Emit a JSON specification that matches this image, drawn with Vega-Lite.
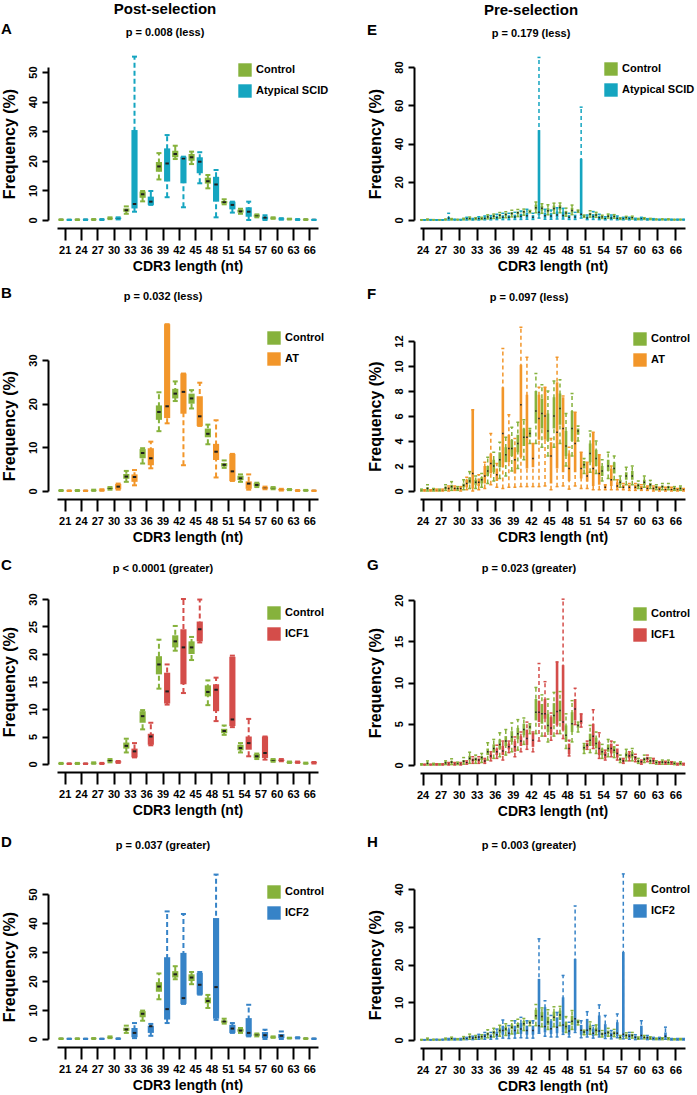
{
"$schema": "https://vega.github.io/schema/vega-lite/v6.json",
"padding": {"left": 0, "top": 1, "right": 0, "bottom": 0},
"background": "white",
"config": {
  "font": "Liberation Sans",
  "view": {"stroke": null},
  "mark": {"opacity": 1},
  "tick": {"opacity": 1},
  "bar": {"opacity": 1},
  "rule": {"opacity": 1},
  "axis": {"domainColor": "#000", "domainWidth": 2, "tickColor": "#000", "tickWidth": 2, "labelColor": "#000", "labelFont": "Liberation Sans", "labelFontWeight": "bold", "labelFontSize": 11, "titleFont": "Liberation Sans", "titleFontWeight": "bold", "titleColor": "#000", "grid": false},
  "axisX": {"offset": 8, "tickSize": 12, "labelAngle": 0, "labelPadding": 4, "titleFontSize": 14, "titlePadding": 4},
  "axisY": {"tickSize": 6, "labelAngle": 270, "labelAlign": "center", "labelBaseline": "bottom", "labelPadding": 4, "titleFontSize": 16, "titlePadding": 10},
  "legend": {"symbolType": "square", "symbolSize": 180, "symbolStrokeWidth": 0, "symbolOpacity": 1, "labelFont": "Liberation Sans", "labelFontSize": 11, "labelFontWeight": "bold", "labelColor": "#000", "rowPadding": 7, "labelOffset": 4, "padding": 0},
  "title": {"font": "Liberation Sans", "fontWeight": "bold", "color": "#000"}
},
"datasets": {
"post": [
{"len":21,"grp":"Control","min":0,"q1":0.05,"median":0.1,"q3":0.15,"max":0.2},
{"len":24,"grp":"Control","min":0,"q1":0.05,"median":0.1,"q3":0.15,"max":0.2},
{"len":27,"grp":"Control","min":0.05,"q1":0.1,"median":0.15,"q3":0.2,"max":0.3},
{"len":30,"grp":"Control","min":0.3,"q1":0.45,"median":0.6,"q3":0.75,"max":0.9},
{"len":33,"grp":"Control","min":2.1,"q1":2.8,"median":3.3,"q3":3.9,"max":4.6},
{"len":36,"grp":"Control","min":6.3,"q1":7.5,"median":8.7,"q3":9.6,"max":9.8},
{"len":39,"grp":"Control","min":13.7,"q1":16.3,"median":18.1,"q3":19.6,"max":22.6},
{"len":42,"grp":"Control","min":20.6,"q1":21.2,"median":22.3,"q3":23.4,"max":25.1},
{"len":45,"grp":"Control","min":18.9,"q1":20.0,"median":21.2,"q3":22.3,"max":23.1},
{"len":48,"grp":"Control","min":10.7,"q1":12.3,"median":13.1,"q3":14.3,"max":15.2},
{"len":51,"grp":"Control","min":5.3,"q1":5.6,"median":6.0,"q3":6.4,"max":7.0},
{"len":54,"grp":"Control","min":2.1,"q1":2.5,"median":2.9,"q3":3.5,"max":3.8},
{"len":57,"grp":"Control","min":0.9,"q1":1.1,"median":1.4,"q3":1.8,"max":1.9},
{"len":60,"grp":"Control","min":0.4,"q1":0.5,"median":0.7,"q3":0.8,"max":0.9},
{"len":63,"grp":"Control","min":0.2,"q1":0.25,"median":0.3,"q3":0.4,"max":0.45},
{"len":66,"grp":"Control","min":0.05,"q1":0.1,"median":0.15,"q3":0.2,"max":0.25},
{"len":21,"grp":"Atypical SCID","min":0,"q1":0.02,"median":0.05,"q3":0.08,"max":0.1},
{"len":24,"grp":"Atypical SCID","min":0,"q1":0.05,"median":0.1,"q3":0.15,"max":0.2},
{"len":27,"grp":"Atypical SCID","min":0,"q1":0.1,"median":0.15,"q3":0.2,"max":0.3},
{"len":30,"grp":"Atypical SCID","min":0.2,"q1":0.3,"median":0.5,"q3":0.8,"max":0.9},
{"len":33,"grp":"Atypical SCID","min":2.8,"q1":3.9,"median":5.4,"q3":30.4,"max":55.2},
{"len":36,"grp":"Atypical SCID","min":5.1,"q1":5.1,"median":6.2,"q3":7.9,"max":9.8},
{"len":39,"grp":"Atypical SCID","min":7.7,"q1":13.0,"median":19.1,"q3":24.2,"max":28.7},
{"len":42,"grp":"Atypical SCID","min":4.3,"q1":12.4,"median":20.8,"q3":21.4,"max":21.4},
{"len":45,"grp":"Atypical SCID","min":12.4,"q1":15.8,"median":19.7,"q3":21.2,"max":22.9},
{"len":48,"grp":"Atypical SCID","min":0.9,"q1":6.2,"median":12.0,"q3":14.6,"max":16.9},
{"len":51,"grp":"Atypical SCID","min":2.5,"q1":3.6,"median":5.1,"q3":6.2,"max":6.2},
{"len":54,"grp":"Atypical SCID","min":0,"q1":1.1,"median":2.8,"q3":4.3,"max":6.2},
{"len":57,"grp":"Atypical SCID","min":0,"q1":0.2,"median":0.8,"q3":1.2,"max":1.6},
{"len":60,"grp":"Atypical SCID","min":0.1,"q1":0.2,"median":0.4,"q3":0.5,"max":0.6},
{"len":63,"grp":"Atypical SCID","min":0,"q1":0.1,"median":0.15,"q3":0.2,"max":0.3},
{"len":66,"grp":"Atypical SCID","min":0,"q1":0.02,"median":0.05,"q3":0.08,"max":0.1},
{"len":21,"grp":"AT","min":0,"q1":0.02,"median":0.05,"q3":0.08,"max":0.1},
{"len":24,"grp":"AT","min":0,"q1":0.02,"median":0.05,"q3":0.08,"max":0.1},
{"len":27,"grp":"AT","min":0.05,"q1":0.1,"median":0.2,"q3":0.3,"max":0.4},
{"len":30,"grp":"AT","min":0.3,"q1":0.4,"median":1.0,"q3":1.6,"max":1.7},
{"len":33,"grp":"AT","min":1.3,"q1":2.1,"median":3.2,"q3":3.8,"max":4.8},
{"len":36,"grp":"AT","min":5.2,"q1":5.9,"median":7.5,"q3":9.8,"max":11.3},
{"len":39,"grp":"AT","min":15.5,"q1":16.7,"median":19.4,"q3":38.2,"max":38.2},
{"len":42,"grp":"AT","min":5.9,"q1":17.7,"median":22.7,"q3":26.9,"max":26.9},
{"len":45,"grp":"AT","min":14.9,"q1":14.9,"median":17.1,"q3":21.7,"max":24.8},
{"len":48,"grp":"AT","min":3.1,"q1":7.1,"median":9.0,"q3":10.8,"max":16.2},
{"len":51,"grp":"AT","min":2.3,"q1":2.3,"median":4.5,"q3":8.5,"max":8.5},
{"len":54,"grp":"AT","min":0.3,"q1":0.5,"median":1.7,"q3":2.2,"max":3.8},
{"len":57,"grp":"AT","min":0.4,"q1":0.5,"median":0.7,"q3":0.9,"max":1.0},
{"len":60,"grp":"AT","min":0.1,"q1":0.15,"median":0.3,"q3":0.45,"max":0.5},
{"len":63,"grp":"AT","min":0,"q1":0.05,"median":0.1,"q3":0.15,"max":0.2},
{"len":66,"grp":"AT","min":0,"q1":0.02,"median":0.05,"q3":0.08,"max":0.1},
{"len":21,"grp":"ICF1","min":0,"q1":0.02,"median":0.05,"q3":0.08,"max":0.1},
{"len":24,"grp":"ICF1","min":0,"q1":0.02,"median":0.05,"q3":0.08,"max":0.1},
{"len":27,"grp":"ICF1","min":0,"q1":0.05,"median":0.1,"q3":0.15,"max":0.2},
{"len":30,"grp":"ICF1","min":0.2,"q1":0.25,"median":0.35,"q3":0.5,"max":0.55},
{"len":33,"grp":"ICF1","min":1.2,"q1":1.2,"median":2.3,"q3":2.8,"max":3.8},
{"len":36,"grp":"ICF1","min":3.4,"q1":3.5,"median":5.0,"q3":5.5,"max":7.5},
{"len":39,"grp":"ICF1","min":10.8,"q1":11.0,"median":13.2,"q3":16.6,"max":18.1},
{"len":42,"grp":"ICF1","min":12.9,"q1":14.5,"median":21.2,"q3":24.5,"max":30.0},
{"len":45,"grp":"ICF1","min":22.1,"q1":22.3,"median":24.5,"q3":25.9,"max":29.9},
{"len":48,"grp":"ICF1","min":7.8,"q1":9.6,"median":13.5,"q3":14.5,"max":15.7},
{"len":51,"grp":"ICF1","min":6.7,"q1":6.9,"median":8.1,"q3":19.5,"max":19.7},
{"len":54,"grp":"ICF1","min":1.4,"q1":2.6,"median":3.8,"q3":5.0,"max":8.2},
{"len":57,"grp":"ICF1","min":0.8,"q1":1.1,"median":2.0,"q3":5.0,"max":5.0},
{"len":60,"grp":"ICF1","min":0.5,"q1":0.55,"median":0.7,"q3":0.8,"max":0.9},
{"len":63,"grp":"ICF1","min":0.2,"q1":0.25,"median":0.35,"q3":0.4,"max":0.45},
{"len":66,"grp":"ICF1","min":0.1,"q1":0.15,"median":0.25,"q3":0.3,"max":0.35},
{"len":21,"grp":"ICF2","min":0,"q1":0.02,"median":0.05,"q3":0.08,"max":0.1},
{"len":24,"grp":"ICF2","min":0,"q1":0.02,"median":0.05,"q3":0.08,"max":0.1},
{"len":27,"grp":"ICF2","min":0,"q1":0.02,"median":0.05,"q3":0.08,"max":0.1},
{"len":30,"grp":"ICF2","min":0,"q1":0.05,"median":0.1,"q3":0.15,"max":0.2},
{"len":33,"grp":"ICF2","min":0.3,"q1":0.6,"median":2.1,"q3":3.8,"max":5.5},
{"len":36,"grp":"ICF2","min":1.1,"q1":2.1,"median":4.4,"q3":4.6,"max":5.2},
{"len":39,"grp":"ICF2","min":5.5,"q1":6.7,"median":10.3,"q3":28.2,"max":44.0},
{"len":42,"grp":"ICF2","min":12.1,"q1":12.1,"median":14.1,"q3":29.7,"max":43.1},
{"len":45,"grp":"ICF2","min":15.3,"q1":15.3,"median":18.7,"q3":22.8,"max":23.1},
{"len":48,"grp":"ICF2","min":6.6,"q1":7.0,"median":17.9,"q3":41.7,"max":56.7},
{"len":51,"grp":"ICF2","min":2.1,"q1":2.1,"median":3.6,"q3":4.9,"max":5.5},
{"len":54,"grp":"ICF2","min":0.9,"q1":0.9,"median":2.1,"q3":7.2,"max":11.8},
{"len":57,"grp":"ICF2","min":0,"q1":0.3,"median":1.3,"q3":2.4,"max":3.2},
{"len":60,"grp":"ICF2","min":0,"q1":0.3,"median":1.1,"q3":1.7,"max":2.6},
{"len":63,"grp":"ICF2","min":0.2,"q1":0.3,"median":0.4,"q3":0.5,"max":0.6},
{"len":66,"grp":"ICF2","min":0,"q1":0.05,"median":0.1,"q3":0.15,"max":0.2}
],
"pre": [
{"len":24,"grp":"Control","min":0,"q1":0.02,"median":0.05,"q3":0.1,"max":0.15},
{"len":25,"grp":"Control","min":0,"q1":0.1,"median":0.2,"q3":0.3,"max":0.5},
{"len":26,"grp":"Control","min":0,"q1":0.05,"median":0.1,"q3":0.15,"max":0.2},
{"len":27,"grp":"Control","min":0,"q1":0.03,"median":0.06,"q3":0.1,"max":0.15},
{"len":28,"grp":"Control","min":0.05,"q1":0.15,"median":0.25,"q3":0.35,"max":0.5},
{"len":29,"grp":"Control","min":0.05,"q1":0.2,"median":0.35,"q3":0.5,"max":0.75},
{"len":30,"grp":"Control","min":0.05,"q1":0.1,"median":0.2,"q3":0.25,"max":0.35},
{"len":31,"grp":"Control","min":0.1,"q1":0.3,"median":0.45,"q3":0.6,"max":0.9},
{"len":32,"grp":"Control","min":0.2,"q1":0.6,"median":0.8,"q3":1.1,"max":1.55},
{"len":33,"grp":"Control","min":0.2,"q1":0.5,"median":0.7,"q3":0.9,"max":1.2},
{"len":34,"grp":"Control","min":0.3,"q1":0.6,"median":0.9,"q3":1.1,"max":1.4},
{"len":35,"grp":"Control","min":0.6,"q1":1.2,"median":1.6,"q3":2.0,"max":2.7},
{"len":36,"grp":"Control","min":0.8,"q1":1.5,"median":2.0,"q3":2.5,"max":3.1},
{"len":37,"grp":"Control","min":1.0,"q1":1.9,"median":2.5,"q3":3.1,"max":3.9},
{"len":38,"grp":"Control","min":1.2,"q1":2.3,"median":2.9,"q3":3.5,"max":4.3},
{"len":39,"grp":"Control","min":1.6,"q1":2.8,"median":3.4,"q3":4.1,"max":5.1},
{"len":40,"grp":"Control","min":1.8,"q1":3.1,"median":3.8,"q3":4.5,"max":5.5},
{"len":41,"grp":"Control","min":2.5,"q1":3.6,"median":4.3,"q3":5.0,"max":5.7},
{"len":42,"grp":"Control","min":3.8,"q1":4.3,"median":4.6,"q3":4.9,"max":5.0},
{"len":43,"grp":"Control","min":3.8,"q1":5.4,"median":6.4,"q3":8.0,"max":9.4},
{"len":44,"grp":"Control","min":3.5,"q1":5.0,"median":6.2,"q3":7.4,"max":8.5},
{"len":45,"grp":"Control","min":2.8,"q1":4.0,"median":4.8,"q3":6.2,"max":8.0},
{"len":46,"grp":"Control","min":3.5,"q1":5.0,"median":6.0,"q3":7.5,"max":8.8},
{"len":47,"grp":"Control","min":3.8,"q1":5.3,"median":6.6,"q3":7.8,"max":8.9},
{"len":48,"grp":"Control","min":2.0,"q1":2.8,"median":3.6,"q3":4.8,"max":6.2},
{"len":49,"grp":"Control","min":2.8,"q1":4.0,"median":5.0,"q3":6.4,"max":7.8},
{"len":50,"grp":"Control","min":4.0,"q1":4.5,"median":4.8,"q3":5.0,"max":5.2},
{"len":51,"grp":"Control","min":1.4,"q1":1.8,"median":2.1,"q3":2.4,"max":2.6},
{"len":52,"grp":"Control","min":1.5,"q1":2.3,"median":3.0,"q3":3.8,"max":4.8},
{"len":53,"grp":"Control","min":1.4,"q1":2.0,"median":2.6,"q3":3.3,"max":4.0},
{"len":54,"grp":"Control","min":0.8,"q1":1.2,"median":1.6,"q3":2.0,"max":2.5},
{"len":55,"grp":"Control","min":1.0,"q1":1.6,"median":2.0,"q3":2.5,"max":3.1},
{"len":56,"grp":"Control","min":0.9,"q1":1.4,"median":1.8,"q3":2.3,"max":2.8},
{"len":57,"grp":"Control","min":0.3,"q1":0.5,"median":0.7,"q3":0.9,"max":1.2},
{"len":58,"grp":"Control","min":0.5,"q1":0.9,"median":1.2,"q3":1.5,"max":1.9},
{"len":59,"grp":"Control","min":0.5,"q1":0.9,"median":1.2,"q3":1.6,"max":2.0},
{"len":60,"grp":"Control","min":0.2,"q1":0.3,"median":0.45,"q3":0.6,"max":0.8},
{"len":61,"grp":"Control","min":0.3,"q1":0.5,"median":0.7,"q3":0.9,"max":1.2},
{"len":62,"grp":"Control","min":0.2,"q1":0.35,"median":0.5,"q3":0.65,"max":0.85},
{"len":63,"grp":"Control","min":0.1,"q1":0.2,"median":0.3,"q3":0.4,"max":0.5},
{"len":64,"grp":"Control","min":0.1,"q1":0.25,"median":0.35,"q3":0.45,"max":0.6},
{"len":65,"grp":"Control","min":0.1,"q1":0.2,"median":0.3,"q3":0.4,"max":0.6},
{"len":66,"grp":"Control","min":0.05,"q1":0.1,"median":0.2,"q3":0.25,"max":0.35},
{"len":67,"grp":"Control","min":0.05,"q1":0.1,"median":0.2,"q3":0.3,"max":0.4},
{"len":24,"grp":"Atypical SCID","min":0,"q1":0.02,"median":0.04,"q3":0.07,"max":0.1},
{"len":25,"grp":"Atypical SCID","min":0,"q1":0.04,"median":0.08,"q3":0.14,"max":0.2},
{"len":26,"grp":"Atypical SCID","min":0,"q1":0.02,"median":0.04,"q3":0.07,"max":0.1},
{"len":27,"grp":"Atypical SCID","min":0,"q1":0.02,"median":0.04,"q3":0.07,"max":0.1},
{"len":28,"grp":"Atypical SCID","min":0,"q1":0.5,"median":1.0,"q3":1.5,"max":3.5},
{"len":29,"grp":"Atypical SCID","min":0,"q1":0.1,"median":0.2,"q3":0.3,"max":0.4},
{"len":30,"grp":"Atypical SCID","min":0,"q1":0.06,"median":0.12,"q3":0.2,"max":0.3},
{"len":31,"grp":"Atypical SCID","min":0,"q1":0.3,"median":0.6,"q3":1.0,"max":1.4},
{"len":32,"grp":"Atypical SCID","min":0,"q1":0.2,"median":0.3,"q3":0.55,"max":0.8},
{"len":33,"grp":"Atypical SCID","min":0,"q1":0.3,"median":0.7,"q3":1.2,"max":1.7},
{"len":34,"grp":"Atypical SCID","min":0.1,"q1":0.4,"median":0.8,"q3":1.5,"max":2.1},
{"len":35,"grp":"Atypical SCID","min":0.1,"q1":0.5,"median":0.9,"q3":1.6,"max":2.3},
{"len":36,"grp":"Atypical SCID","min":0.2,"q1":0.6,"median":1.2,"q3":2.1,"max":3.0},
{"len":37,"grp":"Atypical SCID","min":0.2,"q1":0.7,"median":1.4,"q3":2.4,"max":3.5},
{"len":38,"grp":"Atypical SCID","min":0.2,"q1":0.7,"median":1.4,"q3":2.4,"max":3.5},
{"len":39,"grp":"Atypical SCID","min":0.3,"q1":0.8,"median":1.6,"q3":2.8,"max":4.0},
{"len":40,"grp":"Atypical SCID","min":0.3,"q1":0.9,"median":1.9,"q3":3.3,"max":4.7},
{"len":41,"grp":"Atypical SCID","min":0.4,"q1":1.1,"median":2.2,"q3":3.9,"max":5.6},
{"len":42,"grp":"Atypical SCID","min":0.3,"q1":0.7,"median":1.4,"q3":2.5,"max":3.5},
{"len":43,"grp":"Atypical SCID","min":1.0,"q1":2.5,"median":4.0,"q3":47.0,"max":85.0},
{"len":44,"grp":"Atypical SCID","min":0.4,"q1":1.1,"median":2.2,"q3":3.9,"max":5.6},
{"len":45,"grp":"Atypical SCID","min":0.4,"q1":1.0,"median":2.1,"q3":3.6,"max":5.2},
{"len":46,"grp":"Atypical SCID","min":0.5,"q1":1.3,"median":2.6,"q3":4.5,"max":6.4},
{"len":47,"grp":"Atypical SCID","min":0.5,"q1":1.2,"median":2.4,"q3":4.3,"max":6.1},
{"len":48,"grp":"Atypical SCID","min":0.3,"q1":0.7,"median":1.4,"q3":2.5,"max":3.5},
{"len":49,"grp":"Atypical SCID","min":0.3,"q1":0.8,"median":1.6,"q3":2.8,"max":4.0},
{"len":50,"grp":"Atypical SCID","min":1.0,"q1":2.0,"median":3.0,"q3":32.0,"max":59.0},
{"len":51,"grp":"Atypical SCID","min":0.2,"q1":0.5,"median":1.0,"q3":1.8,"max":2.6},
{"len":52,"grp":"Atypical SCID","min":0.3,"q1":0.9,"median":1.8,"q3":3.1,"max":4.4},
{"len":53,"grp":"Atypical SCID","min":0.2,"q1":0.6,"median":1.2,"q3":2.1,"max":3.0},
{"len":54,"grp":"Atypical SCID","min":0.1,"q1":0.3,"median":0.7,"q3":1.2,"max":1.7},
{"len":55,"grp":"Atypical SCID","min":0.2,"q1":0.5,"median":1.0,"q3":1.8,"max":2.6},
{"len":56,"grp":"Atypical SCID","min":0.1,"q1":0.4,"median":0.8,"q3":1.5,"max":2.1},
{"len":57,"grp":"Atypical SCID","min":0.1,"q1":0.3,"median":0.6,"q3":1.0,"max":1.4},
{"len":58,"grp":"Atypical SCID","min":0.1,"q1":0.3,"median":0.6,"q3":1.0,"max":1.4},
{"len":59,"grp":"Atypical SCID","min":0,"q1":0.2,"median":0.4,"q3":0.6,"max":0.9},
{"len":60,"grp":"Atypical SCID","min":0.1,"q1":0.3,"median":0.6,"q3":1.0,"max":1.4},
{"len":61,"grp":"Atypical SCID","min":0,"q1":0.15,"median":0.3,"q3":0.5,"max":0.7},
{"len":62,"grp":"Atypical SCID","min":0,"q1":0.15,"median":0.3,"q3":0.5,"max":0.7},
{"len":63,"grp":"Atypical SCID","min":0,"q1":0.1,"median":0.2,"q3":0.3,"max":0.4},
{"len":64,"grp":"Atypical SCID","min":0,"q1":0.1,"median":0.2,"q3":0.3,"max":0.4},
{"len":65,"grp":"Atypical SCID","min":0,"q1":0.1,"median":0.2,"q3":0.3,"max":0.4},
{"len":66,"grp":"Atypical SCID","min":0,"q1":0.1,"median":0.2,"q3":0.3,"max":0.4},
{"len":67,"grp":"Atypical SCID","min":0,"q1":0.1,"median":0.2,"q3":0.3,"max":0.4},
{"len":24,"grp":"AT","min":0,"q1":0.02,"median":0.04,"q3":0.06,"max":0.1},
{"len":25,"grp":"AT","min":0,"q1":0.02,"median":0.04,"q3":0.06,"max":0.1},
{"len":26,"grp":"AT","min":0,"q1":0.03,"median":0.05,"q3":0.08,"max":0.15},
{"len":27,"grp":"AT","min":0,"q1":0.03,"median":0.05,"q3":0.08,"max":0.15},
{"len":28,"grp":"AT","min":0,"q1":0.1,"median":0.2,"q3":0.3,"max":0.4},
{"len":29,"grp":"AT","min":0.05,"q1":0.1,"median":0.2,"q3":0.3,"max":0.4},
{"len":30,"grp":"AT","min":0,"q1":0.1,"median":0.2,"q3":0.3,"max":0.35},
{"len":31,"grp":"AT","min":0.1,"q1":0.3,"median":0.6,"q3":0.9,"max":1.1},
{"len":32,"grp":"AT","min":0,"q1":0.2,"median":1.4,"q3":6.5,"max":6.5},
{"len":33,"grp":"AT","min":0.1,"q1":0.4,"median":0.7,"q3":1.0,"max":1.3},
{"len":34,"grp":"AT","min":0.2,"q1":0.6,"median":1.2,"q3":2.0,"max":2.3},
{"len":35,"grp":"AT","min":0.5,"q1":1.4,"median":2.2,"q3":3.0,"max":4.6},
{"len":36,"grp":"AT","min":0.3,"q1":0.8,"median":1.3,"q3":1.8,"max":2.2},
{"len":37,"grp":"AT","min":0.2,"q1":1.9,"median":4.6,"q3":8.3,"max":11.4},
{"len":38,"grp":"AT","min":0.3,"q1":2.3,"median":3.4,"q3":4.5,"max":6.1},
{"len":39,"grp":"AT","min":0.3,"q1":1.4,"median":2.5,"q3":3.5,"max":4.2},
{"len":40,"grp":"AT","min":0.35,"q1":2.7,"median":6.9,"q3":10.1,"max":13.1},
{"len":41,"grp":"AT","min":0.35,"q1":1.8,"median":4.3,"q3":7.7,"max":10.7},
{"len":42,"grp":"AT","min":0.35,"q1":1.9,"median":2.6,"q3":3.8,"max":3.8},
{"len":43,"grp":"AT","min":0.35,"q1":4.1,"median":5.8,"q3":7.7,"max":8.3},
{"len":44,"grp":"AT","min":0.4,"q1":4.1,"median":6.0,"q3":8.3,"max":8.3},
{"len":45,"grp":"AT","min":0.1,"q1":0.6,"median":2.8,"q3":3.9,"max":4.2},
{"len":46,"grp":"AT","min":0.35,"q1":1.8,"median":4.7,"q3":8.7,"max":10.7},
{"len":47,"grp":"AT","min":0.4,"q1":1.5,"median":5.0,"q3":7.5,"max":7.6},
{"len":48,"grp":"AT","min":0.15,"q1":0.8,"median":1.8,"q3":3.0,"max":3.5},
{"len":49,"grp":"AT","min":0.4,"q1":1.5,"median":3.8,"q3":6.3,"max":6.3},
{"len":50,"grp":"AT","min":0.2,"q1":1.0,"median":1.8,"q3":3.1,"max":3.1},
{"len":51,"grp":"AT","min":0.2,"q1":0.75,"median":1.2,"q3":2.3,"max":2.3},
{"len":52,"grp":"AT","min":0.1,"q1":0.4,"median":1.8,"q3":4.7,"max":4.7},
{"len":53,"grp":"AT","min":0.1,"q1":0.5,"median":1.4,"q3":2.9,"max":2.9},
{"len":54,"grp":"AT","min":0.1,"q1":0.2,"median":0.3,"q3":0.5,"max":0.5},
{"len":55,"grp":"AT","min":0.1,"q1":0.4,"median":0.9,"q3":1.8,"max":2.0},
{"len":56,"grp":"AT","min":0.1,"q1":0.2,"median":0.4,"q3":0.7,"max":0.9},
{"len":57,"grp":"AT","min":0.1,"q1":0.2,"median":0.3,"q3":0.5,"max":0.6},
{"len":58,"grp":"AT","min":0.05,"q1":0.15,"median":0.3,"q3":0.5,"max":0.6},
{"len":59,"grp":"AT","min":0.05,"q1":0.15,"median":0.3,"q3":0.5,"max":0.6},
{"len":60,"grp":"AT","min":0.05,"q1":0.1,"median":0.2,"q3":0.4,"max":0.5},
{"len":61,"grp":"AT","min":0.05,"q1":0.1,"median":0.2,"q3":0.35,"max":0.4},
{"len":62,"grp":"AT","min":0,"q1":0.1,"median":0.2,"q3":0.3,"max":0.4},
{"len":63,"grp":"AT","min":0,"q1":0.1,"median":0.15,"q3":0.25,"max":0.3},
{"len":64,"grp":"AT","min":0,"q1":0.05,"median":0.1,"q3":0.2,"max":0.3},
{"len":65,"grp":"AT","min":0,"q1":0.05,"median":0.1,"q3":0.2,"max":0.3},
{"len":66,"grp":"AT","min":0,"q1":0.05,"median":0.1,"q3":0.15,"max":0.2},
{"len":67,"grp":"AT","min":0,"q1":0.05,"median":0.1,"q3":0.15,"max":0.2},
{"len":24,"grp":"ICF1","min":0,"q1":0.02,"median":0.05,"q3":0.08,"max":0.1},
{"len":25,"grp":"ICF1","min":0,"q1":0.02,"median":0.05,"q3":0.08,"max":0.1},
{"len":26,"grp":"ICF1","min":0,"q1":0.03,"median":0.06,"q3":0.1,"max":0.15},
{"len":27,"grp":"ICF1","min":0,"q1":0.03,"median":0.06,"q3":0.1,"max":0.15},
{"len":28,"grp":"ICF1","min":0,"q1":0.05,"median":0.1,"q3":0.2,"max":0.3},
{"len":29,"grp":"ICF1","min":0,"q1":0.05,"median":0.1,"q3":0.2,"max":0.3},
{"len":30,"grp":"ICF1","min":0,"q1":0.05,"median":0.1,"q3":0.2,"max":0.3},
{"len":31,"grp":"ICF1","min":0.1,"q1":0.2,"median":0.3,"q3":0.4,"max":0.5},
{"len":32,"grp":"ICF1","min":0.2,"q1":0.4,"median":0.6,"q3":0.8,"max":1.0},
{"len":33,"grp":"ICF1","min":0.2,"q1":0.4,"median":0.6,"q3":0.8,"max":1.0},
{"len":34,"grp":"ICF1","min":0.2,"q1":0.3,"median":0.5,"q3":0.7,"max":0.8},
{"len":35,"grp":"ICF1","min":0.5,"q1":0.8,"median":1.1,"q3":1.4,"max":1.6},
{"len":36,"grp":"ICF1","min":0.8,"q1":1.2,"median":1.6,"q3":2.0,"max":2.4},
{"len":37,"grp":"ICF1","min":0.6,"q1":1.2,"median":1.7,"q3":2.3,"max":2.9},
{"len":38,"grp":"ICF1","min":1.5,"q1":1.9,"median":2.2,"q3":2.6,"max":2.9},
{"len":39,"grp":"ICF1","min":1.0,"q1":1.6,"median":2.2,"q3":2.9,"max":3.4},
{"len":40,"grp":"ICF1","min":1.6,"q1":2.3,"median":2.9,"q3":3.5,"max":4.0},
{"len":41,"grp":"ICF1","min":1.9,"q1":2.4,"median":3.2,"q3":4.3,"max":5.2},
{"len":42,"grp":"ICF1","min":1.6,"q1":2.2,"median":3.0,"q3":3.9,"max":4.0},
{"len":43,"grp":"ICF1","min":2.9,"q1":5.2,"median":6.4,"q3":7.8,"max":12.3},
{"len":44,"grp":"ICF1","min":3.5,"q1":5.6,"median":6.2,"q3":8.0,"max":10.1},
{"len":45,"grp":"ICF1","min":3.0,"q1":3.6,"median":4.5,"q3":5.8,"max":6.3},
{"len":46,"grp":"ICF1","min":3.8,"q1":4.8,"median":6.5,"q3":12.5,"max":12.5},
{"len":47,"grp":"ICF1","min":3.2,"q1":4.2,"median":5.2,"q3":12.1,"max":20.1},
{"len":48,"grp":"ICF1","min":1.1,"q1":1.3,"median":2.0,"q3":2.6,"max":3.0},
{"len":49,"grp":"ICF1","min":4.9,"q1":5.4,"median":6.8,"q3":8.0,"max":9.3},
{"len":50,"grp":"ICF1","min":4.6,"q1":5.0,"median":5.3,"q3":6.2,"max":6.2},
{"len":51,"grp":"ICF1","min":1.9,"q1":2.1,"median":2.4,"q3":2.7,"max":2.9},
{"len":52,"grp":"ICF1","min":2.0,"q1":2.3,"median":3.5,"q3":5.0,"max":6.7},
{"len":53,"grp":"ICF1","min":0.8,"q1":1.2,"median":2.0,"q3":2.8,"max":3.9},
{"len":54,"grp":"ICF1","min":0.6,"q1":0.8,"median":1.2,"q3":1.6,"max":1.8},
{"len":55,"grp":"ICF1","min":1.0,"q1":1.4,"median":2.0,"q3":2.6,"max":2.9},
{"len":56,"grp":"ICF1","min":0.6,"q1":0.9,"median":1.4,"q3":2.0,"max":2.4},
{"len":57,"grp":"ICF1","min":0.2,"q1":0.3,"median":0.5,"q3":0.7,"max":0.8},
{"len":58,"grp":"ICF1","min":0.5,"q1":0.8,"median":1.1,"q3":1.4,"max":1.6},
{"len":59,"grp":"ICF1","min":0.4,"q1":0.6,"median":0.9,"q3":1.1,"max":1.3},
{"len":60,"grp":"ICF1","min":0.1,"q1":0.2,"median":0.4,"q3":0.5,"max":0.6},
{"len":61,"grp":"ICF1","min":0.4,"q1":0.6,"median":0.8,"q3":1.0,"max":1.2},
{"len":62,"grp":"ICF1","min":0.2,"q1":0.4,"median":0.5,"q3":0.7,"max":0.8},
{"len":63,"grp":"ICF1","min":0.1,"q1":0.2,"median":0.3,"q3":0.35,"max":0.4},
{"len":64,"grp":"ICF1","min":0.1,"q1":0.2,"median":0.3,"q3":0.4,"max":0.45},
{"len":65,"grp":"ICF1","min":0.1,"q1":0.2,"median":0.3,"q3":0.35,"max":0.4},
{"len":66,"grp":"ICF1","min":0,"q1":0.1,"median":0.15,"q3":0.2,"max":0.2},
{"len":67,"grp":"ICF1","min":0,"q1":0.1,"median":0.15,"q3":0.2,"max":0.2},
{"len":24,"grp":"ICF2","min":0,"q1":0.02,"median":0.05,"q3":0.08,"max":0.1},
{"len":25,"grp":"ICF2","min":0,"q1":0.02,"median":0.05,"q3":0.08,"max":0.1},
{"len":26,"grp":"ICF2","min":0,"q1":0.05,"median":0.1,"q3":0.15,"max":0.2},
{"len":27,"grp":"ICF2","min":0,"q1":0.05,"median":0.1,"q3":0.15,"max":0.2},
{"len":28,"grp":"ICF2","min":0,"q1":0.1,"median":0.2,"q3":0.3,"max":0.4},
{"len":29,"grp":"ICF2","min":0,"q1":0.1,"median":0.2,"q3":0.3,"max":0.4},
{"len":30,"grp":"ICF2","min":0,"q1":0.1,"median":0.2,"q3":0.3,"max":0.4},
{"len":31,"grp":"ICF2","min":0.1,"q1":0.2,"median":0.4,"q3":0.6,"max":0.7},
{"len":32,"grp":"ICF2","min":0.1,"q1":0.3,"median":0.5,"q3":0.8,"max":1.0},
{"len":33,"grp":"ICF2","min":0.2,"q1":0.5,"median":0.8,"q3":1.2,"max":1.5},
{"len":34,"grp":"ICF2","min":0.2,"q1":0.6,"median":1.0,"q3":1.6,"max":2.0},
{"len":35,"grp":"ICF2","min":0.2,"q1":0.5,"median":0.9,"q3":1.5,"max":2.0},
{"len":36,"grp":"ICF2","min":0.3,"q1":0.8,"median":1.4,"q3":2.2,"max":2.9},
{"len":37,"grp":"ICF2","min":0.5,"q1":1.4,"median":2.5,"q3":3.8,"max":5.3},
{"len":38,"grp":"ICF2","min":0.4,"q1":1.0,"median":1.8,"q3":2.8,"max":3.8},
{"len":39,"grp":"ICF2","min":0.5,"q1":1.4,"median":2.5,"q3":3.8,"max":5.1},
{"len":40,"grp":"ICF2","min":0.6,"q1":1.6,"median":2.9,"q3":4.5,"max":6.0},
{"len":41,"grp":"ICF2","min":0.5,"q1":1.4,"median":2.5,"q3":3.8,"max":5.1},
{"len":42,"grp":"ICF2","min":0.5,"q1":1.4,"median":2.5,"q3":3.8,"max":5.1},
{"len":43,"grp":"ICF2","min":1.8,"q1":2.0,"median":3.8,"q3":16.2,"max":26.8},
{"len":44,"grp":"ICF2","min":1.0,"q1":2.0,"median":3.6,"q3":8.7,"max":10.4},
{"len":45,"grp":"ICF2","min":0.8,"q1":1.6,"median":3.0,"q3":5.0,"max":6.5},
{"len":46,"grp":"ICF2","min":0.8,"q1":1.8,"median":3.4,"q3":6.0,"max":7.3},
{"len":47,"grp":"ICF2","min":1.5,"q1":2.0,"median":4.0,"q3":11.3,"max":17.1},
{"len":48,"grp":"ICF2","min":0.8,"q1":1.4,"median":2.4,"q3":4.0,"max":4.7},
{"len":49,"grp":"ICF2","min":2.0,"q1":2.5,"median":5.6,"q3":21.5,"max":35.5},
{"len":50,"grp":"ICF2","min":0.6,"q1":1.4,"median":2.6,"q3":4.0,"max":5.1},
{"len":51,"grp":"ICF2","min":0.8,"q1":1.4,"median":2.6,"q3":5.6,"max":7.5},
{"len":52,"grp":"ICF2","min":0.5,"q1":1.0,"median":1.8,"q3":3.0,"max":3.8},
{"len":53,"grp":"ICF2","min":0.8,"q1":1.2,"median":2.4,"q3":6.5,"max":9.3},
{"len":54,"grp":"ICF2","min":0.4,"q1":0.9,"median":1.8,"q3":4.2,"max":6.5},
{"len":55,"grp":"ICF2","min":0.3,"q1":0.7,"median":1.3,"q3":2.0,"max":2.5},
{"len":56,"grp":"ICF2","min":0.6,"q1":1.0,"median":1.8,"q3":4.7,"max":6.9},
{"len":57,"grp":"ICF2","min":0.3,"q1":0.8,"median":1.5,"q3":23.3,"max":44.0},
{"len":58,"grp":"ICF2","min":0.2,"q1":0.6,"median":1.0,"q3":1.6,"max":2.0},
{"len":59,"grp":"ICF2","min":0.1,"q1":0.4,"median":0.7,"q3":1.1,"max":1.4},
{"len":60,"grp":"ICF2","min":0.3,"q1":0.6,"median":1.2,"q3":3.8,"max":5.1},
{"len":61,"grp":"ICF2","min":0.1,"q1":0.3,"median":0.6,"q3":0.9,"max":1.2},
{"len":62,"grp":"ICF2","min":0.1,"q1":0.2,"median":0.4,"q3":0.6,"max":0.7},
{"len":63,"grp":"ICF2","min":0.1,"q1":0.2,"median":0.4,"q3":0.6,"max":0.7},
{"len":64,"grp":"ICF2","min":0.2,"q1":0.5,"median":1.0,"q3":2.0,"max":3.4},
{"len":65,"grp":"ICF2","min":0,"q1":0.1,"median":0.2,"q3":0.3,"max":0.4},
{"len":66,"grp":"ICF2","min":0,"q1":0.1,"median":0.2,"q3":0.3,"max":0.4},
{"len":67,"grp":"ICF2","min":0,"q1":0.1,"median":0.2,"q3":0.3,"max":0.4}
]
},
"resolve": {"scale": {"x": "independent", "y": "independent", "color": "independent", "xOffset": "independent"}, "legend": {"color": "independent"}},
"spacing": 38,
"hconcat": [
{
 "title": {"text": "Post-selection", "fontSize": 15, "anchor": "middle", "offset": 5},
 "resolve": {"scale": {"x": "independent", "y": "independent", "color": "independent", "xOffset": "independent"}, "legend": {"color": "independent"}},
 "spacing": 17,
 "vconcat": [
 {
 "resolve": {"scale": {"x": "independent", "y": "independent", "color": "independent", "xOffset": "independent"}, "legend": {"color": "independent"}},
 "spacing": 13,
 "vconcat": [
  {
   "title": {"text": "A", "anchor": "start", "frame": "bounds", "fontSize": 15, "dy": 10, "offset": 0},
   "resolve": {"scale": {"color": "independent", "xOffset": "independent"}, "legend": {"color": "independent"}},
   "vconcat": [{
    "width": 261, "height": 153,
    "title": {"text": "p = 0.008 (less)", "fontSize": 11, "offset": 18, "anchor": "middle", "frame": "bounds"},
    "data": {"name": "post"},
    "transform": [{"filter": {"field": "grp", "oneOf": ["Control", "Atypical SCID"]}}],
    "encoding": {
     "x": {"field": "len", "type": "ordinal", "title": "CDR3 length (nt)", "scale": {"paddingInner": 0, "paddingOuter": 0}, "axis": {"labelOverlap": false}},
     "xOffset": {"field": "grp", "type": "nominal", "sort": ["Control", "Atypical SCID"], "scale": {"paddingInner": 0.25, "paddingOuter": 0.12}},
     "color": {"field": "grp", "type": "nominal", "sort": ["Control", "Atypical SCID"], "scale": {"domain": ["Control", "Atypical SCID"], "range": ["#86b23c", "#15a5c0"]}, "legend": {"title": null, "orient": "none", "legendX": 181, "legendY": -4}}
    },
    "layer": [
     {"mark": {"type": "rule", "strokeDash": [5, 3], "strokeWidth": 2, "opacity": 1}, "encoding": {"y": {"field": "min", "type": "quantitative", "title": "Frequency (%)", "scale": {"domain": [0, 51.7], "nice": false}, "axis": {"values": [0, 10, 20, 30, 40, 50], "offset": 9}}, "y2": {"field": "max"}}},
     {"mark": {"type": "bar", "opacity": 1}, "encoding": {"y": {"field": "q1", "type": "quantitative", "title": "Frequency (%)", "scale": {"domain": [0, 51.7], "nice": false}, "axis": {"values": [0, 10, 20, 30, 40, 50], "offset": 9}}, "y2": {"field": "q3"}}},
     {"mark": {"type": "tick", "size": 3.5, "thickness": 2, "opacity": 1}, "encoding": {"y": {"field": "median", "type": "quantitative", "title": "Frequency (%)", "scale": {"domain": [0, 51.7], "nice": false}, "axis": {"values": [0, 10, 20, 30, 40, 50], "offset": 9}}, "color": {"value": "#1f1f1f"}}},
     {"mark": {"type": "tick", "size": 5, "thickness": 2, "opacity": 1}, "encoding": {"y": {"field": "min", "type": "quantitative", "title": "Frequency (%)", "scale": {"domain": [0, 51.7], "nice": false}, "axis": {"values": [0, 10, 20, 30, 40, 50], "offset": 9}}}},
     {"mark": {"type": "tick", "size": 5, "thickness": 2, "opacity": 1}, "encoding": {"y": {"field": "max", "type": "quantitative", "title": "Frequency (%)", "scale": {"domain": [0, 51.7], "nice": false}, "axis": {"values": [0, 10, 20, 30, 40, 50], "offset": 9}}}}
    ]
   }]
  },
  {
   "title": {"text": "B", "anchor": "start", "frame": "bounds", "fontSize": 15, "dy": 10, "offset": 0},
   "resolve": {"scale": {"color": "independent", "xOffset": "independent"}, "legend": {"color": "independent"}},
   "vconcat": [{
    "width": 261, "height": 131,
    "title": {"text": "p = 0.032 (less)", "fontSize": 11, "offset": 21, "anchor": "middle", "frame": "bounds"},
    "data": {"name": "post"},
    "transform": [{"filter": {"field": "grp", "oneOf": ["Control", "AT"]}}],
    "encoding": {
     "x": {"field": "len", "type": "ordinal", "title": "CDR3 length (nt)", "scale": {"paddingInner": 0, "paddingOuter": 0}, "axis": {"labelOverlap": false}},
     "xOffset": {"field": "grp", "type": "nominal", "sort": ["Control", "AT"], "scale": {"paddingInner": 0.25, "paddingOuter": 0.12}},
     "color": {"field": "grp", "type": "nominal", "sort": ["Control", "AT"], "scale": {"domain": ["Control", "AT"], "range": ["#86b23c", "#f2962a"]}, "legend": {"title": null, "orient": "none", "legendX": 210, "legendY": -29}}
    },
    "layer": [
     {"mark": {"type": "rule", "strokeDash": [5, 3], "strokeWidth": 2, "opacity": 1}, "encoding": {"y": {"field": "min", "type": "quantitative", "title": "Frequency (%)", "scale": {"domain": [0, 30], "nice": false}, "axis": {"values": [0, 10, 20, 30], "offset": 9}}, "y2": {"field": "max"}}},
     {"mark": {"type": "bar", "opacity": 1}, "encoding": {"y": {"field": "q1", "type": "quantitative", "title": "Frequency (%)", "scale": {"domain": [0, 30], "nice": false}, "axis": {"values": [0, 10, 20, 30], "offset": 9}}, "y2": {"field": "q3"}}},
     {"mark": {"type": "tick", "size": 3.5, "thickness": 2, "opacity": 1}, "encoding": {"y": {"field": "median", "type": "quantitative", "title": "Frequency (%)", "scale": {"domain": [0, 30], "nice": false}, "axis": {"values": [0, 10, 20, 30], "offset": 9}}, "color": {"value": "#1f1f1f"}}},
     {"mark": {"type": "tick", "size": 5, "thickness": 2, "opacity": 1}, "encoding": {"y": {"field": "min", "type": "quantitative", "title": "Frequency (%)", "scale": {"domain": [0, 30], "nice": false}, "axis": {"values": [0, 10, 20, 30], "offset": 9}}}},
     {"mark": {"type": "tick", "size": 5, "thickness": 2, "opacity": 1}, "encoding": {"y": {"field": "max", "type": "quantitative", "title": "Frequency (%)", "scale": {"domain": [0, 30], "nice": false}, "axis": {"values": [0, 10, 20, 30], "offset": 9}}}}
    ]
   }]
  },
  {
   "title": {"text": "C", "anchor": "start", "frame": "bounds", "fontSize": 15, "dy": 10, "offset": 0},
   "resolve": {"scale": {"color": "independent", "xOffset": "independent"}, "legend": {"color": "independent"}},
   "vconcat": [{
    "width": 261, "height": 165,
    "title": {"text": "p < 0.0001 (greater)", "fontSize": 11, "offset": 19, "anchor": "middle", "frame": "bounds"},
    "data": {"name": "post"},
    "transform": [{"filter": {"field": "grp", "oneOf": ["Control", "ICF1"]}}],
    "encoding": {
     "x": {"field": "len", "type": "ordinal", "title": "CDR3 length (nt)", "scale": {"paddingInner": 0, "paddingOuter": 0}, "axis": {"labelOverlap": false}},
     "xOffset": {"field": "grp", "type": "nominal", "sort": ["Control", "ICF1"], "scale": {"paddingInner": 0.25, "paddingOuter": 0.12}},
     "color": {"field": "grp", "type": "nominal", "sort": ["Control", "ICF1"], "scale": {"domain": ["Control", "ICF1"], "range": ["#86b23c", "#d44d4a"]}, "legend": {"title": null, "orient": "none", "legendX": 210, "legendY": 7}}
    },
    "layer": [
     {"mark": {"type": "rule", "strokeDash": [5, 3], "strokeWidth": 2, "opacity": 1}, "encoding": {"y": {"field": "min", "type": "quantitative", "title": "Frequency (%)", "scale": {"domain": [0, 30], "nice": false}, "axis": {"values": [0, 5, 10, 15, 20, 25, 30], "offset": 9}}, "y2": {"field": "max"}}},
     {"mark": {"type": "bar", "opacity": 1}, "encoding": {"y": {"field": "q1", "type": "quantitative", "title": "Frequency (%)", "scale": {"domain": [0, 30], "nice": false}, "axis": {"values": [0, 5, 10, 15, 20, 25, 30], "offset": 9}}, "y2": {"field": "q3"}}},
     {"mark": {"type": "tick", "size": 3.5, "thickness": 2, "opacity": 1}, "encoding": {"y": {"field": "median", "type": "quantitative", "title": "Frequency (%)", "scale": {"domain": [0, 30], "nice": false}, "axis": {"values": [0, 5, 10, 15, 20, 25, 30], "offset": 9}}, "color": {"value": "#1f1f1f"}}},
     {"mark": {"type": "tick", "size": 5, "thickness": 2, "opacity": 1}, "encoding": {"y": {"field": "min", "type": "quantitative", "title": "Frequency (%)", "scale": {"domain": [0, 30], "nice": false}, "axis": {"values": [0, 5, 10, 15, 20, 25, 30], "offset": 9}}}},
     {"mark": {"type": "tick", "size": 5, "thickness": 2, "opacity": 1}, "encoding": {"y": {"field": "max", "type": "quantitative", "title": "Frequency (%)", "scale": {"domain": [0, 30], "nice": false}, "axis": {"values": [0, 5, 10, 15, 20, 25, 30], "offset": 9}}}}
    ]
   }]
  }
 ]
 },
  {
   "title": {"text": "D", "anchor": "start", "frame": "bounds", "fontSize": 15, "dy": 10, "offset": 0},
   "resolve": {"scale": {"color": "independent", "xOffset": "independent"}, "legend": {"color": "independent"}},
   "vconcat": [{
    "width": 261, "height": 145,
    "title": {"text": "p = 0.037 (greater)", "fontSize": 11, "offset": 23, "anchor": "middle", "frame": "bounds"},
    "data": {"name": "post"},
    "transform": [{"filter": {"field": "grp", "oneOf": ["Control", "ICF2"]}}],
    "encoding": {
     "x": {"field": "len", "type": "ordinal", "title": "CDR3 length (nt)", "scale": {"paddingInner": 0, "paddingOuter": 0}, "axis": {"labelOverlap": false}},
     "xOffset": {"field": "grp", "type": "nominal", "sort": ["Control", "ICF2"], "scale": {"paddingInner": 0.25, "paddingOuter": 0.12}},
     "color": {"field": "grp", "type": "nominal", "sort": ["Control", "ICF2"], "scale": {"domain": ["Control", "ICF2"], "range": ["#86b23c", "#3683c7"]}, "legend": {"title": null, "orient": "none", "legendX": 210, "legendY": -9}}
    },
    "layer": [
     {"mark": {"type": "rule", "strokeDash": [5, 3], "strokeWidth": 2, "opacity": 1}, "encoding": {"y": {"field": "min", "type": "quantitative", "title": "Frequency (%)", "scale": {"domain": [0, 50], "nice": false}, "axis": {"values": [0, 10, 20, 30, 40, 50], "offset": 9}}, "y2": {"field": "max"}}},
     {"mark": {"type": "bar", "opacity": 1}, "encoding": {"y": {"field": "q1", "type": "quantitative", "title": "Frequency (%)", "scale": {"domain": [0, 50], "nice": false}, "axis": {"values": [0, 10, 20, 30, 40, 50], "offset": 9}}, "y2": {"field": "q3"}}},
     {"mark": {"type": "tick", "size": 3.5, "thickness": 2, "opacity": 1}, "encoding": {"y": {"field": "median", "type": "quantitative", "title": "Frequency (%)", "scale": {"domain": [0, 50], "nice": false}, "axis": {"values": [0, 10, 20, 30, 40, 50], "offset": 9}}, "color": {"value": "#1f1f1f"}}},
     {"mark": {"type": "tick", "size": 5, "thickness": 2, "opacity": 1}, "encoding": {"y": {"field": "min", "type": "quantitative", "title": "Frequency (%)", "scale": {"domain": [0, 50], "nice": false}, "axis": {"values": [0, 10, 20, 30, 40, 50], "offset": 9}}}},
     {"mark": {"type": "tick", "size": 5, "thickness": 2, "opacity": 1}, "encoding": {"y": {"field": "max", "type": "quantitative", "title": "Frequency (%)", "scale": {"domain": [0, 50], "nice": false}, "axis": {"values": [0, 10, 20, 30, 40, 50], "offset": 9}}}}
    ]
   }]
  }
 ]
},
{
 "title": {"text": "Pre-selection", "fontSize": 15, "anchor": "middle", "offset": 5},
 "resolve": {"scale": {"x": "independent", "y": "independent", "color": "independent", "xOffset": "independent"}, "legend": {"color": "independent"}},
 "spacing": 17,
 "vconcat": [
 {
 "resolve": {"scale": {"x": "independent", "y": "independent", "color": "independent", "xOffset": "independent"}, "legend": {"color": "independent"}},
 "spacing": 13,
 "vconcat": [
  {
   "title": {"text": "E", "anchor": "start", "frame": "bounds", "fontSize": 15, "dy": 10, "offset": 0},
   "resolve": {"scale": {"color": "independent", "xOffset": "independent"}, "legend": {"color": "independent"}},
   "vconcat": [{
    "width": 265, "height": 153,
    "title": {"text": "p = 0.179 (less)", "fontSize": 11, "offset": 18, "anchor": "middle", "frame": "bounds"},
    "data": {"name": "pre"},
    "transform": [{"filter": {"field": "grp", "oneOf": ["Control", "Atypical SCID"]}}],
    "encoding": {
     "x": {"field": "len", "type": "ordinal", "title": "CDR3 length (nt)", "scale": {"paddingInner": 0, "paddingOuter": 0}, "axis": {"values": [24, 27, 30, 33, 36, 39, 42, 45, 48, 51, 54, 57, 60, 63, 66], "labelOverlap": false}},
     "xOffset": {"field": "grp", "type": "nominal", "sort": ["Control", "Atypical SCID"], "scale": {"paddingInner": 0.15, "paddingOuter": 0.05}},
     "color": {"field": "grp", "type": "nominal", "sort": ["Control", "Atypical SCID"], "scale": {"domain": ["Control", "Atypical SCID"], "range": ["#86b23c", "#15a5c0"]}, "legend": {"title": null, "orient": "none", "legendX": 184, "legendY": -5}}
    },
    "layer": [
     {"mark": {"type": "rule", "strokeDash": [4, 3], "strokeWidth": 1.5, "opacity": 1}, "encoding": {"y": {"field": "min", "type": "quantitative", "title": "Frequency (%)", "scale": {"domain": [0, 80], "nice": false}, "axis": {"values": [0, 20, 40, 60, 80], "offset": 6}}, "y2": {"field": "max"}}},
     {"mark": {"type": "bar", "opacity": 1}, "encoding": {"y": {"field": "q1", "type": "quantitative", "title": "Frequency (%)", "scale": {"domain": [0, 80], "nice": false}, "axis": {"values": [0, 20, 40, 60, 80], "offset": 6}}, "y2": {"field": "q3"}}},
     {"mark": {"type": "tick", "size": 1.5, "thickness": 1.5, "opacity": 1}, "encoding": {"y": {"field": "median", "type": "quantitative", "title": "Frequency (%)", "scale": {"domain": [0, 80], "nice": false}, "axis": {"values": [0, 20, 40, 60, 80], "offset": 6}}, "color": {"value": "#1f1f1f"}}},
     {"mark": {"type": "tick", "size": 3, "thickness": 1.5, "opacity": 1}, "encoding": {"y": {"field": "min", "type": "quantitative", "title": "Frequency (%)", "scale": {"domain": [0, 80], "nice": false}, "axis": {"values": [0, 20, 40, 60, 80], "offset": 6}}}},
     {"mark": {"type": "tick", "size": 3, "thickness": 1.5, "opacity": 1}, "encoding": {"y": {"field": "max", "type": "quantitative", "title": "Frequency (%)", "scale": {"domain": [0, 80], "nice": false}, "axis": {"values": [0, 20, 40, 60, 80], "offset": 6}}}}
    ]
   }]
  },
  {
   "title": {"text": "F", "anchor": "start", "frame": "bounds", "fontSize": 15, "dy": 10, "offset": 0},
   "resolve": {"scale": {"color": "independent", "xOffset": "independent"}, "legend": {"color": "independent"}},
   "vconcat": [{
    "width": 265, "height": 150,
    "title": {"text": "p = 0.097 (less)", "fontSize": 11, "offset": 24, "anchor": "middle", "frame": "bounds"},
    "data": {"name": "pre"},
    "transform": [{"filter": {"field": "grp", "oneOf": ["Control", "AT"]}}],
    "encoding": {
     "x": {"field": "len", "type": "ordinal", "title": "CDR3 length (nt)", "scale": {"paddingInner": 0, "paddingOuter": 0}, "axis": {"values": [24, 27, 30, 33, 36, 39, 42, 45, 48, 51, 54, 57, 60, 63, 66], "labelOverlap": false}},
     "xOffset": {"field": "grp", "type": "nominal", "sort": ["Control", "AT"], "scale": {"paddingInner": 0.15, "paddingOuter": 0.05}},
     "color": {"field": "grp", "type": "nominal", "sort": ["Control", "AT"], "scale": {"domain": ["Control", "AT"], "range": ["#86b23c", "#f2962a"]}, "legend": {"title": null, "orient": "none", "legendX": 213, "legendY": -9}}
    },
    "layer": [
     {"mark": {"type": "rule", "strokeDash": [4, 3], "strokeWidth": 1.5, "opacity": 1}, "encoding": {"y": {"field": "min", "type": "quantitative", "title": "Frequency (%)", "scale": {"domain": [0, 12], "nice": false}, "axis": {"values": [0, 2, 4, 6, 8, 10, 12], "offset": 6}}, "y2": {"field": "max"}}},
     {"mark": {"type": "bar", "opacity": 1}, "encoding": {"y": {"field": "q1", "type": "quantitative", "title": "Frequency (%)", "scale": {"domain": [0, 12], "nice": false}, "axis": {"values": [0, 2, 4, 6, 8, 10, 12], "offset": 6}}, "y2": {"field": "q3"}}},
     {"mark": {"type": "tick", "size": 1.5, "thickness": 1.5, "opacity": 1}, "encoding": {"y": {"field": "median", "type": "quantitative", "title": "Frequency (%)", "scale": {"domain": [0, 12], "nice": false}, "axis": {"values": [0, 2, 4, 6, 8, 10, 12], "offset": 6}}, "color": {"value": "#1f1f1f"}}},
     {"mark": {"type": "tick", "size": 3, "thickness": 1.5, "opacity": 1}, "encoding": {"y": {"field": "min", "type": "quantitative", "title": "Frequency (%)", "scale": {"domain": [0, 12], "nice": false}, "axis": {"values": [0, 2, 4, 6, 8, 10, 12], "offset": 6}}}},
     {"mark": {"type": "tick", "size": 3, "thickness": 1.5, "opacity": 1}, "encoding": {"y": {"field": "max", "type": "quantitative", "title": "Frequency (%)", "scale": {"domain": [0, 12], "nice": false}, "axis": {"values": [0, 2, 4, 6, 8, 10, 12], "offset": 6}}}}
    ]
   }]
  },
  {
   "title": {"text": "G", "anchor": "start", "frame": "bounds", "fontSize": 15, "dy": 10, "offset": 0},
   "resolve": {"scale": {"color": "independent", "xOffset": "independent"}, "legend": {"color": "independent"}},
   "vconcat": [{
    "width": 265, "height": 165,
    "title": {"text": "p = 0.023 (greater)", "fontSize": 11, "offset": 20, "anchor": "middle", "frame": "bounds"},
    "data": {"name": "pre"},
    "transform": [{"filter": {"field": "grp", "oneOf": ["Control", "ICF1"]}}],
    "encoding": {
     "x": {"field": "len", "type": "ordinal", "title": "CDR3 length (nt)", "scale": {"paddingInner": 0, "paddingOuter": 0}, "axis": {"values": [24, 27, 30, 33, 36, 39, 42, 45, 48, 51, 54, 57, 60, 63, 66], "labelOverlap": false}},
     "xOffset": {"field": "grp", "type": "nominal", "sort": ["Control", "ICF1"], "scale": {"paddingInner": 0.15, "paddingOuter": 0.05}},
     "color": {"field": "grp", "type": "nominal", "sort": ["Control", "ICF1"], "scale": {"domain": ["Control", "ICF1"], "range": ["#86b23c", "#d44d4a"]}, "legend": {"title": null, "orient": "none", "legendX": 213, "legendY": 7}}
    },
    "layer": [
     {"mark": {"type": "rule", "strokeDash": [4, 3], "strokeWidth": 1.5, "opacity": 1}, "encoding": {"y": {"field": "min", "type": "quantitative", "title": "Frequency (%)", "scale": {"domain": [0, 20], "nice": false}, "axis": {"values": [0, 5, 10, 15, 20], "offset": 6}}, "y2": {"field": "max"}}},
     {"mark": {"type": "bar", "opacity": 1}, "encoding": {"y": {"field": "q1", "type": "quantitative", "title": "Frequency (%)", "scale": {"domain": [0, 20], "nice": false}, "axis": {"values": [0, 5, 10, 15, 20], "offset": 6}}, "y2": {"field": "q3"}}},
     {"mark": {"type": "tick", "size": 1.5, "thickness": 1.5, "opacity": 1}, "encoding": {"y": {"field": "median", "type": "quantitative", "title": "Frequency (%)", "scale": {"domain": [0, 20], "nice": false}, "axis": {"values": [0, 5, 10, 15, 20], "offset": 6}}, "color": {"value": "#1f1f1f"}}},
     {"mark": {"type": "tick", "size": 3, "thickness": 1.5, "opacity": 1}, "encoding": {"y": {"field": "min", "type": "quantitative", "title": "Frequency (%)", "scale": {"domain": [0, 20], "nice": false}, "axis": {"values": [0, 5, 10, 15, 20], "offset": 6}}}},
     {"mark": {"type": "tick", "size": 3, "thickness": 1.5, "opacity": 1}, "encoding": {"y": {"field": "max", "type": "quantitative", "title": "Frequency (%)", "scale": {"domain": [0, 20], "nice": false}, "axis": {"values": [0, 5, 10, 15, 20], "offset": 6}}}}
    ]
   }]
  }
 ]
 },
  {
   "title": {"text": "H", "anchor": "start", "frame": "bounds", "fontSize": 15, "dy": 10, "offset": 0},
   "resolve": {"scale": {"color": "independent", "xOffset": "independent"}, "legend": {"color": "independent"}},
   "vconcat": [{
    "width": 265, "height": 151,
    "title": {"text": "p = 0.003 (greater)", "fontSize": 11, "offset": 22, "anchor": "middle", "frame": "bounds"},
    "data": {"name": "pre"},
    "transform": [{"filter": {"field": "grp", "oneOf": ["Control", "ICF2"]}}],
    "encoding": {
     "x": {"field": "len", "type": "ordinal", "title": "CDR3 length (nt)", "scale": {"paddingInner": 0, "paddingOuter": 0}, "axis": {"values": [24, 27, 30, 33, 36, 39, 42, 45, 48, 51, 54, 57, 60, 63, 66], "labelOverlap": false}},
     "xOffset": {"field": "grp", "type": "nominal", "sort": ["Control", "ICF2"], "scale": {"paddingInner": 0.15, "paddingOuter": 0.05}},
     "color": {"field": "grp", "type": "nominal", "sort": ["Control", "ICF2"], "scale": {"domain": ["Control", "ICF2"], "range": ["#86b23c", "#3683c7"]}, "legend": {"title": null, "orient": "none", "legendX": 213, "legendY": -6}}
    },
    "layer": [
     {"mark": {"type": "rule", "strokeDash": [4, 3], "strokeWidth": 1.5, "opacity": 1}, "encoding": {"y": {"field": "min", "type": "quantitative", "title": "Frequency (%)", "scale": {"domain": [0, 40], "nice": false}, "axis": {"values": [0, 10, 20, 30, 40], "offset": 6}}, "y2": {"field": "max"}}},
     {"mark": {"type": "bar", "opacity": 1}, "encoding": {"y": {"field": "q1", "type": "quantitative", "title": "Frequency (%)", "scale": {"domain": [0, 40], "nice": false}, "axis": {"values": [0, 10, 20, 30, 40], "offset": 6}}, "y2": {"field": "q3"}}},
     {"mark": {"type": "tick", "size": 1.5, "thickness": 1.5, "opacity": 1}, "encoding": {"y": {"field": "median", "type": "quantitative", "title": "Frequency (%)", "scale": {"domain": [0, 40], "nice": false}, "axis": {"values": [0, 10, 20, 30, 40], "offset": 6}}, "color": {"value": "#1f1f1f"}}},
     {"mark": {"type": "tick", "size": 3, "thickness": 1.5, "opacity": 1}, "encoding": {"y": {"field": "min", "type": "quantitative", "title": "Frequency (%)", "scale": {"domain": [0, 40], "nice": false}, "axis": {"values": [0, 10, 20, 30, 40], "offset": 6}}}},
     {"mark": {"type": "tick", "size": 3, "thickness": 1.5, "opacity": 1}, "encoding": {"y": {"field": "max", "type": "quantitative", "title": "Frequency (%)", "scale": {"domain": [0, 40], "nice": false}, "axis": {"values": [0, 10, 20, 30, 40], "offset": 6}}}}
    ]
   }]
  }
 ]
}
]
}
